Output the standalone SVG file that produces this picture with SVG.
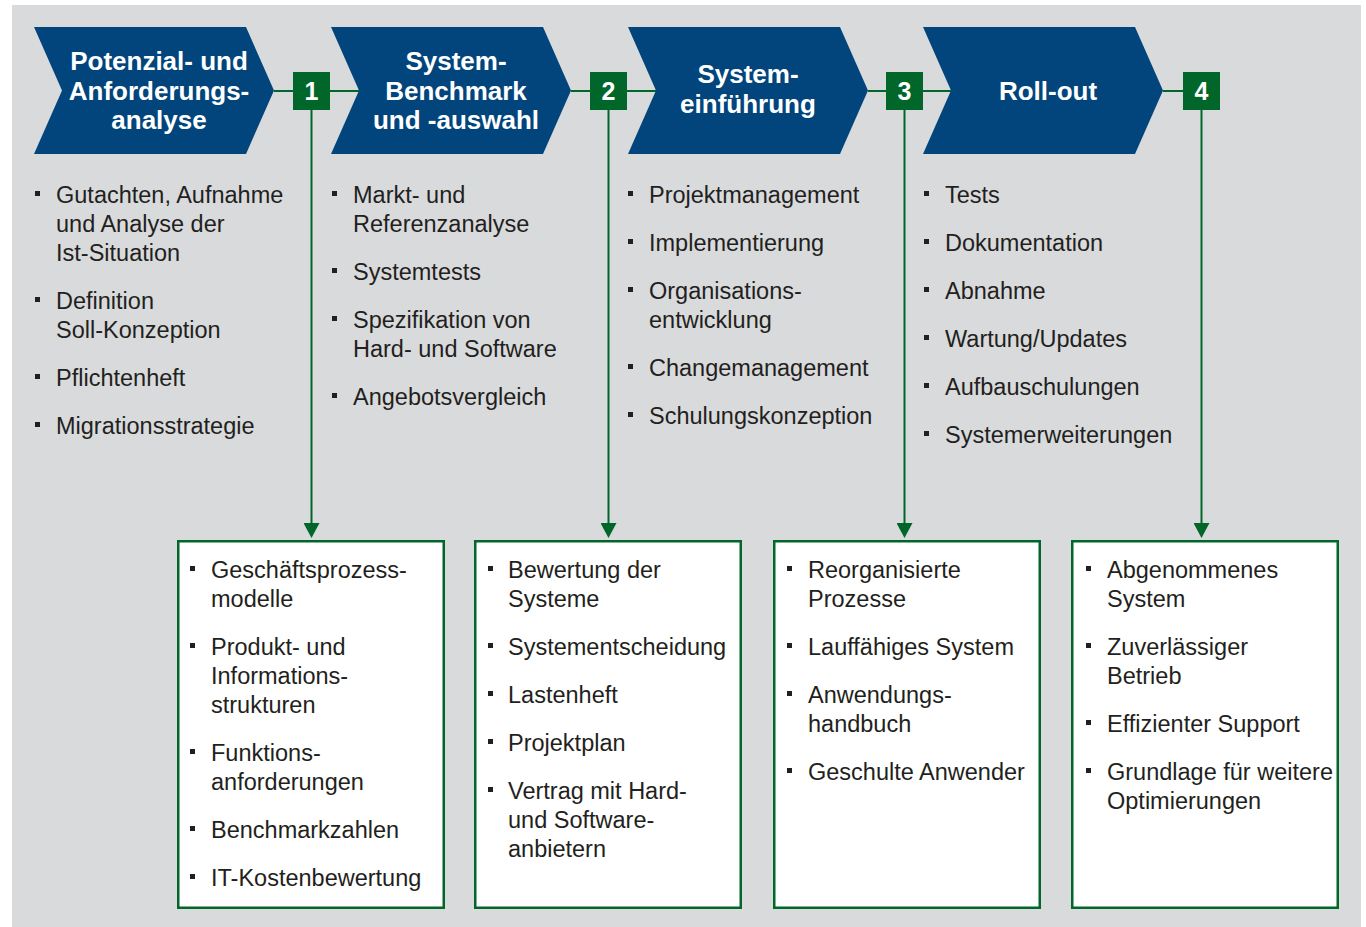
<svg xmlns="http://www.w3.org/2000/svg" width="1366" height="927" viewBox="0 0 1366 927">
<defs>
<style>
.chev{fill:#02457c}
.title{font-family:"Liberation Sans",Arial,sans-serif;font-size:26px;font-weight:bold;fill:#ffffff;text-anchor:middle}
.num{fill:#006629}
.numt{font-family:"Liberation Sans",Arial,sans-serif;font-size:25px;font-weight:bold;fill:#ffffff;text-anchor:middle}
.txt{font-family:"Liberation Sans",Arial,sans-serif;font-size:23.5px;fill:#231f20}
.bul{fill:#231f20}
.box{fill:#ffffff;stroke:#006629;stroke-width:2.5}
.conn{stroke:#006629;stroke-width:2;fill:none}
</style>
<marker id="arr" markerUnits="userSpaceOnUse" markerWidth="16" markerHeight="16" viewBox="0 0 16 16" refX="0" refY="8" orient="auto">
<path d="M0,0 L15,8 L0,16 Z" fill="#006629"/>
</marker>
</defs>
<rect x="12" y="5" width="1349" height="922" fill="#d9dadc"/>

<g id="connectors">
<line class="conn" x1="274" y1="91" x2="359" y2="91"/>
<line class="conn" x1="571" y1="91" x2="656" y2="91"/>
<line class="conn" x1="868" y1="91" x2="951" y2="91"/>
<line class="conn" x1="1163" y1="91" x2="1184" y2="91"/>
<line class="conn" x1="311.5" y1="110" x2="311.5" y2="523" marker-end="url(#arr)"/>
<line class="conn" x1="608.5" y1="110" x2="608.5" y2="523" marker-end="url(#arr)"/>
<line class="conn" x1="904.5" y1="110" x2="904.5" y2="523" marker-end="url(#arr)"/>
<line class="conn" x1="1201.5" y1="110" x2="1201.5" y2="523" marker-end="url(#arr)"/>
</g>

<g id="phase1">
<path class="chev" d="M34,27 L246,27 L274,90.5 L246,154 L34,154 L62,90.5 Z"/>
<text class="title" x="159" y="70">Potenzial- und</text>
<text class="title" x="159" y="99.5">Anforderungs-</text>
<text class="title" x="159" y="129">analyse</text>
</g>
<g id="phase2">
<path class="chev" d="M331,27 L543,27 L571,90.5 L543,154 L331,154 L359,90.5 Z"/>
<text class="title" x="456" y="70">System-</text>
<text class="title" x="456" y="99.5">Benchmark</text>
<text class="title" x="456" y="129">und -auswahl</text>
</g>
<g id="phase3">
<path class="chev" d="M628,27 L840,27 L868,90.5 L840,154 L628,154 L656,90.5 Z"/>
<text class="title" x="748" y="83">System-</text>
<text class="title" x="748" y="112.5">einführung</text>
</g>
<g id="phase4">
<path class="chev" d="M923,27 L1135,27 L1163,90.5 L1135,154 L923,154 L951,90.5 Z"/>
<text class="title" x="1048" y="99.5">Roll-out</text>
</g>

<g id="milestone1">
<rect class="num" x="293" y="72" width="37" height="38"/>
<text class="numt" x="311.5" y="100">1</text>
</g>
<g id="milestone2">
<rect class="num" x="590" y="72" width="37" height="38"/>
<text class="numt" x="608.5" y="100">2</text>
</g>
<g id="milestone3">
<rect class="num" x="886" y="72" width="37" height="38"/>
<text class="numt" x="904.5" y="100">3</text>
</g>
<g id="milestone4">
<rect class="num" x="1183" y="72" width="37" height="38"/>
<text class="numt" x="1201.5" y="100">4</text>
</g>

<g id="tasks1">
<rect class="bul" x="35" y="191" width="5" height="5"/>
<rect class="bul" x="35" y="297" width="5" height="5"/>
<rect class="bul" x="35" y="374" width="5" height="5"/>
<rect class="bul" x="35" y="422" width="5" height="5"/>
<text class="txt" x="56" y="203">Gutachten, Aufnahme</text>
<text class="txt" x="56" y="232">und Analyse der</text>
<text class="txt" x="56" y="261">Ist-Situation</text>
<text class="txt" x="56" y="309">Definition</text>
<text class="txt" x="56" y="338">Soll-Konzeption</text>
<text class="txt" x="56" y="386">Pflichtenheft</text>
<text class="txt" x="56" y="434">Migrationsstrategie</text>
</g>
<g id="tasks2">
<rect class="bul" x="332" y="191" width="5" height="5"/>
<rect class="bul" x="332" y="268" width="5" height="5"/>
<rect class="bul" x="332" y="316" width="5" height="5"/>
<rect class="bul" x="332" y="393" width="5" height="5"/>
<text class="txt" x="353" y="203">Markt- und</text>
<text class="txt" x="353" y="232">Referenzanalyse</text>
<text class="txt" x="353" y="280">Systemtests</text>
<text class="txt" x="353" y="328">Spezifikation von</text>
<text class="txt" x="353" y="357">Hard- und Software</text>
<text class="txt" x="353" y="405">Angebotsvergleich</text>
</g>
<g id="tasks3">
<rect class="bul" x="628" y="191" width="5" height="5"/>
<rect class="bul" x="628" y="239" width="5" height="5"/>
<rect class="bul" x="628" y="287" width="5" height="5"/>
<rect class="bul" x="628" y="364" width="5" height="5"/>
<rect class="bul" x="628" y="412" width="5" height="5"/>
<text class="txt" x="649" y="203">Projektmanagement</text>
<text class="txt" x="649" y="251">Implementierung</text>
<text class="txt" x="649" y="299">Organisations-</text>
<text class="txt" x="649" y="328">entwicklung</text>
<text class="txt" x="649" y="376">Changemanagement</text>
<text class="txt" x="649" y="424">Schulungskonzeption</text>
</g>
<g id="tasks4">
<rect class="bul" x="924" y="191" width="5" height="5"/>
<rect class="bul" x="924" y="239" width="5" height="5"/>
<rect class="bul" x="924" y="287" width="5" height="5"/>
<rect class="bul" x="924" y="335" width="5" height="5"/>
<rect class="bul" x="924" y="383" width="5" height="5"/>
<rect class="bul" x="924" y="431" width="5" height="5"/>
<text class="txt" x="945" y="203">Tests</text>
<text class="txt" x="945" y="251">Dokumentation</text>
<text class="txt" x="945" y="299">Abnahme</text>
<text class="txt" x="945" y="347">Wartung/Updates</text>
<text class="txt" x="945" y="395">Aufbauschulungen</text>
<text class="txt" x="945" y="443">Systemerweiterungen</text>
</g>

<g id="result1">
<rect class="box" x="178.25" y="541.25" width="265.5" height="366.5"/>
<rect class="bul" x="190" y="566" width="5" height="5"/>
<rect class="bul" x="190" y="643" width="5" height="5"/>
<rect class="bul" x="190" y="749" width="5" height="5"/>
<rect class="bul" x="190" y="826" width="5" height="5"/>
<rect class="bul" x="190" y="874" width="5" height="5"/>
<text class="txt" x="211" y="578">Geschäftsprozess-</text>
<text class="txt" x="211" y="607">modelle</text>
<text class="txt" x="211" y="655">Produkt- und</text>
<text class="txt" x="211" y="684">Informations-</text>
<text class="txt" x="211" y="713">strukturen</text>
<text class="txt" x="211" y="761">Funktions-</text>
<text class="txt" x="211" y="790">anforderungen</text>
<text class="txt" x="211" y="838">Benchmarkzahlen</text>
<text class="txt" x="211" y="886">IT-Kostenbewertung</text>
</g>
<g id="result2">
<rect class="box" x="475.25" y="541.25" width="265.5" height="366.5"/>
<rect class="bul" x="488" y="566" width="5" height="5"/>
<rect class="bul" x="488" y="643" width="5" height="5"/>
<rect class="bul" x="488" y="691" width="5" height="5"/>
<rect class="bul" x="488" y="739" width="5" height="5"/>
<rect class="bul" x="488" y="787" width="5" height="5"/>
<text class="txt" x="508" y="578">Bewertung der</text>
<text class="txt" x="508" y="607">Systeme</text>
<text class="txt" x="508" y="655">Systementscheidung</text>
<text class="txt" x="508" y="703">Lastenheft</text>
<text class="txt" x="508" y="751">Projektplan</text>
<text class="txt" x="508" y="799">Vertrag mit Hard-</text>
<text class="txt" x="508" y="828">und Software-</text>
<text class="txt" x="508" y="857">anbietern</text>
</g>
<g id="result3">
<rect class="box" x="774.25" y="541.25" width="265.5" height="366.5"/>
<rect class="bul" x="787" y="566" width="5" height="5"/>
<rect class="bul" x="787" y="643" width="5" height="5"/>
<rect class="bul" x="787" y="691" width="5" height="5"/>
<rect class="bul" x="787" y="768" width="5" height="5"/>
<text class="txt" x="808" y="578">Reorganisierte</text>
<text class="txt" x="808" y="607">Prozesse</text>
<text class="txt" x="808" y="655">Lauffähiges System</text>
<text class="txt" x="808" y="703">Anwendungs-</text>
<text class="txt" x="808" y="732">handbuch</text>
<text class="txt" x="808" y="780">Geschulte Anwender</text>
</g>
<g id="result4">
<rect class="box" x="1072.25" y="541.25" width="265.5" height="366.5"/>
<rect class="bul" x="1086" y="566" width="5" height="5"/>
<rect class="bul" x="1086" y="643" width="5" height="5"/>
<rect class="bul" x="1086" y="720" width="5" height="5"/>
<rect class="bul" x="1086" y="768" width="5" height="5"/>
<text class="txt" x="1107" y="578">Abgenommenes</text>
<text class="txt" x="1107" y="607">System</text>
<text class="txt" x="1107" y="655">Zuverlässiger</text>
<text class="txt" x="1107" y="684">Betrieb</text>
<text class="txt" x="1107" y="732">Effizienter Support</text>
<text class="txt" x="1107" y="780">Grundlage für weitere</text>
<text class="txt" x="1107" y="809">Optimierungen</text>
</g>
</svg>
